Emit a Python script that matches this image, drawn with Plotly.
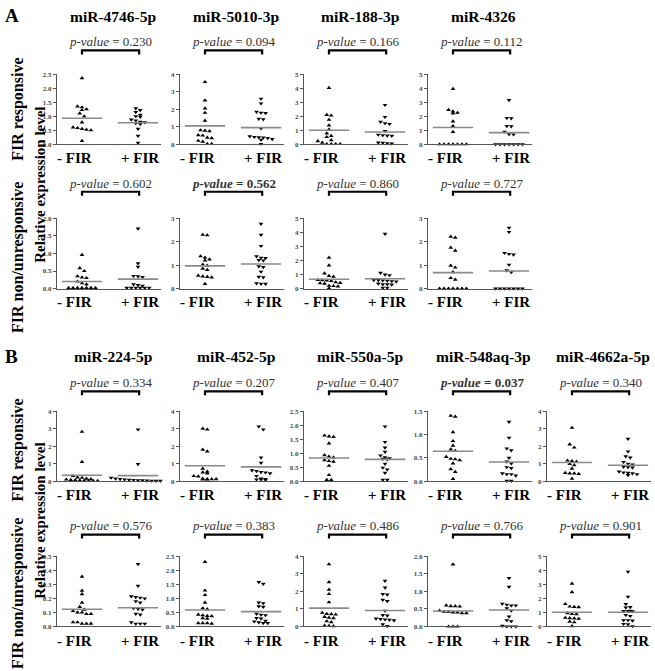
import plotly.graph_objects as go

W, H = 655, 671
FONT = "Liberation Serif, Times New Roman, Times, serif"

# ---------------- data ----------------
titles_A = ["miR-4746-5p", "miR-5010-3p", "miR-188-3p", "miR-4326"]
titles_B = ["miR-224-5p", "miR-452-5p", "miR-550a-5p", "miR-548aq-3p", "miR-4662a-5p"]

pvals_A_resp = ["0.230", "0.094", "0.166", "0.112"]
pvals_A_non = ["0.602", "0.562", "0.860", "0.727"]
pvals_B_resp = ["0.334", "0.207", "0.407", "0.037", "0.340"]
pvals_B_non = ["0.576", "0.383", "0.486", "0.766", "0.901"]
bold_A_resp = [False, False, False, False]
bold_A_non = [False, True, False, False]
bold_B_resp = [False, False, False, True, False]
bold_B_non = [False, False, False, False, False]

ymax_A_resp = [2.5, 4, 5, 5]
ymax_A_non = [2.0, 3, 5, 3]
ymax_B_resp = [4, 4, 2.5, 1.5, 4]
ymax_B_non = [0.5, 2.5, 4, 2.0, 5]
dtick_A_resp = [0.5, 1, 1, 1]
dtick_A_non = [0.5, 1, 1, 1]
dtick_B_resp = [1, 1, 0.5, 0.5, 1]
dtick_B_non = [0.1, 0.5, 1, 0.5, 1]

group_labels = ["- FIR", "+ FIR"]

# FIR responsive, panel A
a_resp_4746_minus = [2.36, 1.35, 1.32, 1.25, 1.22, 1.1, 1.0, 0.78, 0.6, 0.58, 0.55, 0.52, 0.5, 0.12]
a_resp_4746_plus = [1.28, 1.22, 1.15, 1.05, 1.0, 0.98, 0.88, 0.85, 0.8, 0.78, 0.75, 0.72, 0.55, 0.3, 0.05]
a_resp_5010_minus = [3.55, 2.5, 2.05, 1.8, 1.35, 0.8, 0.78, 0.75, 0.52, 0.5, 0.38, 0.35, 0.2, 0.15, 0.02, 0.02]
a_resp_5010_plus = [2.6, 2.33, 1.85, 1.8, 1.78, 1.45, 1.42, 0.9, 0.45, 0.42, 0.4, 0.38, 0.35, 0.3, 0.25, 0.02]
a_resp_188_minus = [4.02, 2.1, 2.05, 1.75, 1.35, 1.05, 0.78, 0.6, 0.52, 0.3, 0.22, 0.12, 0.02, 0.02, 0.02, 0.02]
a_resp_188_plus = [2.8, 1.95, 1.6, 1.5, 1.45, 0.95, 0.68, 0.65, 0.62, 0.6, 0.12, 0.1, 0.08, 0.05]
a_resp_4326_minus = [3.95, 2.45, 2.35, 2.25, 2.2, 1.63, 1.3, 0.88, 0, 0, 0, 0, 0, 0, 0]
a_resp_4326_plus = [3.15, 1.88, 1.85, 1.3, 1.28, 0.9, 0.72, 0.7, 0, 0, 0, 0, 0, 0, 0]
# FIR non/unresponsive, panel A
a_non_4746_minus = [0.96, 0.58, 0.5, 0.35, 0.32, 0.3, 0.2, 0.15, 0.12, 0.02, 0.02, 0.02, 0.02, 0.02, 0.02, 0.02]
a_non_4746_plus = [1.71, 0.72, 0.62, 0.36, 0.35, 0.33, 0.12, 0.1, 0.08, 0.02, 0.02, 0.02, 0.02, 0.02, 0.02]
a_non_5010_minus = [2.3, 2.28, 1.38, 1.32, 1.25, 1.2, 1.02, 0.98, 0.85, 0.8, 0.55, 0.52, 0.5, 0.48, 0.2]
a_non_5010_plus = [2.77, 2.3, 1.82, 1.38, 1.32, 1.3, 1.22, 1.2, 0.95, 0.92, 0.72, 0.5, 0.48, 0.22, 0.2, 0.2]
a_non_188_minus = [2.2, 1.65, 1.08, 0.9, 0.85, 0.62, 0.6, 0.58, 0.55, 0.45, 0.4, 0.38, 0.35, 0.2, 0.18, 0.15, 0.02]
a_non_188_plus = [3.9, 1.12, 1.0, 0.95, 0.6, 0.6, 0.58, 0.55, 0.52, 0.5, 0.35, 0.3, 0.3, 0.28, 0.05, 0.05]
a_non_4326_minus = [2.22, 2.18, 1.75, 1.62, 0.98, 0.9, 0.7, 0.45, 0.38, 0, 0, 0, 0, 0, 0, 0]
a_non_4326_plus = [2.6, 2.42, 1.52, 1.48, 1.45, 1.02, 0.78, 0.7, 0, 0, 0, 0, 0, 0, 0]
# FIR responsive, panel B
b_resp_224_minus = [2.82, 1.1, 0.3, 0.22, 0.2, 0.15, 0.12, 0.1, 0.08, 0.06, 0.05, 0.04, 0.03, 0.02, 0.02]
b_resp_224_plus = [2.95, 0.98, 0.2, 0.15, 0.12, 0.1, 0.08, 0.07, 0.05, 0.05, 0.04, 0.03, 0.02, 0.02, 0.02]
b_resp_452_minus = [3.0, 2.95, 1.8, 1.7, 0.72, 0.55, 0.5, 0.45, 0.3, 0.28, 0.15, 0.12, 0.12, 0.12, 0.1, 0.1]
b_resp_452_plus = [3.12, 2.95, 1.35, 1.05, 0.62, 0.58, 0.52, 0.5, 0.45, 0.3, 0.15, 0.12, 0.1, 0.1, 0.08]
b_resp_550_minus = [1.63, 1.6, 1.58, 1.35, 0.93, 0.88, 0.85, 0.75, 0.72, 0.7, 0.55, 0.22, 0.05, 0.05]
b_resp_550_plus = [1.95, 1.4, 1.2, 1.05, 0.92, 0.85, 0.82, 0.8, 0.78, 0.62, 0.48, 0.42, 0.3, 0.05, 0.05]
b_resp_548_minus = [1.4, 1.38, 1.05, 0.86, 0.76, 0.68, 0.65, 0.52, 0.48, 0.47, 0.45, 0.38, 0.26, 0.2, 0.05]
b_resp_548_plus = [1.27, 0.93, 0.7, 0.66, 0.5, 0.42, 0.38, 0.3, 0.28, 0.17, 0.15, 0.15, 0.12, 0.01, 0.01]
b_resp_4662_minus = [3.05, 2.1, 1.92, 1.18, 1.15, 1.12, 0.98, 0.92, 0.72, 0.48, 0.45, 0.45, 0.42, 0.15]
b_resp_4662_plus = [2.42, 1.7, 1.42, 1.35, 1.1, 1.0, 0.95, 0.82, 0.8, 0.78, 0.55, 0.5, 0.48, 0.45, 0.4, 0.35]
# FIR non/unresponsive, panel B
b_non_224_minus = [0.355, 0.255, 0.23, 0.17, 0.14, 0.12, 0.11, 0.1, 0.1, 0.09, 0.09, 0.03, 0.02, 0.02, 0.02, 0.03]
b_non_224_plus = [0.445, 0.29, 0.215, 0.21, 0.205, 0.2, 0.18, 0.17, 0.13, 0.125, 0.12, 0.09, 0.085, 0.03, 0.02, 0.02, 0.02]
b_non_452_minus = [2.3, 1.28, 1.12, 0.85, 0.65, 0.62, 0.42, 0.4, 0.38, 0.37, 0.3, 0.28, 0.12, 0.12, 0.12, 0.1]
b_non_452_plus = [1.58, 1.52, 0.85, 0.83, 0.72, 0.7, 0.45, 0.42, 0.4, 0.3, 0.28, 0.2, 0.18, 0.15, 0.12, 0.12]
b_non_550_minus = [3.55, 2.53, 2.1, 1.85, 1.38, 0.78, 0.72, 0.7, 0.68, 0.55, 0.5, 0.48, 0.3, 0.25, 0.05, 0.03, 0.02]
b_non_550_plus = [2.6, 2.22, 1.85, 1.82, 1.52, 1.45, 0.9, 0.65, 0.62, 0.45, 0.42, 0.4, 0.38, 0.35, 0.12, 0.02]
b_non_548_minus = [1.77, 0.6, 0.58, 0.58, 0.57, 0.45, 0.42, 0.42, 0.4, 0.4, 0.38, 0.38, 0.0, 0.0, 0.0]
b_non_548_plus = [1.38, 1.13, 0.65, 0.62, 0.6, 0.6, 0.52, 0.45, 0.28, 0.18, 0.15, 0.02, 0.0, 0.0, 0.0]
b_non_4662_minus = [3.05, 2.45, 1.6, 1.42, 1.4, 1.38, 0.95, 0.9, 0.88, 0.62, 0.6, 0.58, 0.55, 0.35, 0.3, 0.02]
b_non_4662_plus = [3.9, 2.12, 1.6, 1.38, 1.35, 1.12, 1.1, 1.1, 1.08, 0.82, 0.75, 0.45, 0.45, 0.42, 0.18, 0.15, 0.02]

# group means (horizontal lines)
means_A_resp_minus = [0.93, 1.05, 1.0, 1.2]
means_A_resp_plus = [0.77, 0.95, 0.88, 0.83]
means_A_non_minus = [0.2, 0.97, 0.66, 0.68]
means_A_non_plus = [0.27, 1.05, 0.7, 0.75]
means_B_resp_minus = [0.34, 0.88, 0.83, 0.64, 1.07]
means_B_resp_plus = [0.32, 0.82, 0.78, 0.41, 0.91]
means_B_non_minus = [0.123, 0.59, 1.05, 0.44, 1.01]
means_B_non_plus = [0.134, 0.53, 0.91, 0.47, 1.01]

# ---------------- layout geometry (pixels) ----------------
col_x0 = [57, 180, 304, 428, 547]
col_w = 104
rows = [
    # axis top, axis bottom, p-value text y, bracket y, group label y
    dict(top=71, bot=142, py=38, by=47, ly=156),
    dict(top=217, bot=288, py=182, by=190, ly=302),
    dict(top=412, bot=483, py=383, by=392, ly=497),
    dict(top=559, bot=630, py=528, by=537, ly=645),
]
title_y = [13, 357]
XR = [-0.446, 1.41]
label_x = [-0.13, 1.03]


def px(xp):
    return xp / W


def py(yp):
    return 1 - yp / H


def build(row, specs, means_m, means_p, ymaxs, dts, pvals, bolds, titles):
    out = []
    for i, (vals, mm, mp) in enumerate(zip(specs, means_m, means_p)):
        out.append(dict(row=row, col=i, vals=vals, mean=(mm, mp), ymax=ymaxs[i], dt=dts[i],
                        p=pvals[i], bold=bolds[i], title=titles[i] if titles else None))
    return out


panels = []
panels += build(0, [(a_resp_4746_minus, a_resp_4746_plus), (a_resp_5010_minus, a_resp_5010_plus),
                    (a_resp_188_minus, a_resp_188_plus), (a_resp_4326_minus, a_resp_4326_plus)],
                means_A_resp_minus, means_A_resp_plus, ymax_A_resp, dtick_A_resp,
                pvals_A_resp, bold_A_resp, titles_A)
panels += build(1, [(a_non_4746_minus, a_non_4746_plus), (a_non_5010_minus, a_non_5010_plus),
                    (a_non_188_minus, a_non_188_plus), (a_non_4326_minus, a_non_4326_plus)],
                means_A_non_minus, means_A_non_plus, ymax_A_non, dtick_A_non,
                pvals_A_non, bold_A_non, None)
panels += build(2, [(b_resp_224_minus, b_resp_224_plus), (b_resp_452_minus, b_resp_452_plus),
                    (b_resp_550_minus, b_resp_550_plus), (b_resp_548_minus, b_resp_548_plus),
                    (b_resp_4662_minus, b_resp_4662_plus)],
                means_B_resp_minus, means_B_resp_plus, ymax_B_resp, dtick_B_resp,
                pvals_B_resp, bold_B_resp, titles_B)
panels += build(3, [(b_non_224_minus, b_non_224_plus), (b_non_452_minus, b_non_452_plus),
                    (b_non_550_minus, b_non_550_plus), (b_non_548_minus, b_non_548_plus),
                    (b_non_4662_minus, b_non_4662_plus)],
                means_B_non_minus, means_B_non_plus, ymax_B_non, dtick_B_non,
                pvals_B_non, bold_B_non, None)


def swarm(vals, ppu, step=0.08, thr=3.4):
    order = sorted(range(len(vals)), key=lambda i: -vals[i])
    offs = [0.0] * len(vals)
    groups, cur = [], []
    for i in order:
        if cur and (vals[cur[0]] - vals[i]) * ppu > thr:
            groups.append(cur)
            cur = []
        cur.append(i)
    groups.append(cur)
    for g in groups:
        n = len(g)
        for j, i in enumerate(g):
            offs[i] = (j - (n - 1) / 2) * step
    return offs


fig = go.Figure()
shapes, annotations = [], []
layout_axes = {}

for k, pn in enumerate(panels, start=1):
    r = rows[pn["row"]]
    x0 = col_x0[pn["col"]]
    xa = "x" if k == 1 else f"x{k}"
    ya = "y" if k == 1 else f"y{k}"
    ppu = (r["bot"] - r["top"]) / pn["ymax"]
    for g, (vals, sym, mval) in enumerate(zip(pn["vals"], ["triangle-up", "triangle-down"], pn["mean"])):
        offs = swarm(vals, ppu)
        fig.add_trace(go.Scatter(
            x=[g + o for o in offs], y=vals, mode="markers", xaxis=xa, yaxis=ya,
            marker=dict(symbol=sym, size=4.2, color="black", line=dict(width=0)),
            cliponaxis=False, showlegend=False, hoverinfo="skip"))
        fig.add_trace(go.Scatter(
            x=[g - 0.36, g + 0.36], y=[mval, mval], mode="lines", xaxis=xa, yaxis=ya,
            line=dict(color="#8a8a8a", width=1.6), cliponaxis=False,
            showlegend=False, hoverinfo="skip"))
        annotations.append(dict(x=label_x[g], xref=xa, y=py(r["ly"]), yref="paper",
                                text=f"<b>{group_labels[g]}</b>", showarrow=False,
                                xanchor="center", yanchor="middle",
                                font=dict(family=FONT, size=15, color="black")))

    nt = int(round(pn["ymax"] / pn["dt"]))
    tv = [round(i * pn["dt"], 3) for i in range(nt + 1)]
    tt = [(f"{v:.1f}" if pn["dt"] < 1 else f"{int(v)}") for v in tv]

    layout_axes["xaxis" if k == 1 else f"xaxis{k}"] = dict(
        domain=[px(x0), px(x0 + col_w)], anchor=ya, range=XR,
        showline=True, linecolor="#555", linewidth=1.3, ticks="", showticklabels=False,
        showgrid=False, zeroline=False, fixedrange=True)
    layout_axes["yaxis" if k == 1 else f"yaxis{k}"] = dict(
        domain=[py(r["bot"]), py(r["top"])], anchor=xa, range=[0, pn["ymax"]],
        showline=True, linecolor="#555", linewidth=1.3,
        ticks="outside", ticklen=3, tickwidth=1, tickcolor="#555",
        tickvals=tv, ticktext=[f"<b>{t}</b>" for t in tt],
        tickfont=dict(family=FONT, size=7, color="#444"),
        showgrid=False, zeroline=False, fixedrange=True)

    # bracket
    yb, yl = py(r["by"]), py(r["by"] + 4)
    shapes.append(dict(type="path", xref=xa, yref="paper",
                       path=f"M 0,{yl} L 0,{yb} L 1.02,{yb} L 1.02,{yl}",
                       line=dict(color="black", width=2.2)))
    ptxt = f"<i>p-value</i> = {pn['p']}"
    if pn["bold"]:
        ptxt = f"<b>{ptxt}</b>"
    annotations.append(dict(x=0.51, xref=xa, y=py(r["py"]), yref="paper", text=ptxt,
                            showarrow=False, xanchor="center", yanchor="middle",
                            font=dict(family=FONT, size=13, color="#333")))
    if pn["title"]:
        ty = title_y[0] if pn["row"] == 0 else title_y[1]
        annotations.append(dict(x=0.55, xref=xa, y=py(ty), yref="paper",
                                text=f"<b>{pn['title']}</b>", showarrow=False,
                                xanchor="center", yanchor="middle",
                                font=dict(family=FONT, size=15.5, color="black")))

# panel letters and axis titles
for letter, ly in [("A", 12), ("B", 357)]:
    annotations.append(dict(x=px(3), y=py(ly), xref="paper", yref="paper", text=f"<b>{letter}</b>",
                            showarrow=False, xanchor="left", yanchor="middle",
                            font=dict(family=FONT, size=19, color="black")))
side_labels = [("FIR responsive", 18, 107, 16), ("Relative expression level", 40, 183, 15),
               ("FIR non/unresponsive", 18, 257, 16),
               ("FIR responsive", 18, 452, 16), ("Relative expression level", 40, 523, 15),
               ("FIR non/unresponsive", 18, 597, 16)]
for txt, lx, ly, fs in side_labels:
    annotations.append(dict(x=px(lx), y=py(ly), xref="paper", yref="paper", text=f"<b>{txt}</b>",
                            textangle=-90, showarrow=False, xanchor="center", yanchor="middle",
                            font=dict(family=FONT, size=fs, color="black")))

fig.update_layout(width=W, height=H, autosize=False, margin=dict(l=0, r=0, t=0, b=0),
                  paper_bgcolor="white", plot_bgcolor="white",
                  shapes=shapes, annotations=annotations, **layout_axes)
fig.write_html("out.html", config={"displayModeBar": False},
               post_script="document.body.style.margin='0';document.body.style.padding='0';")
